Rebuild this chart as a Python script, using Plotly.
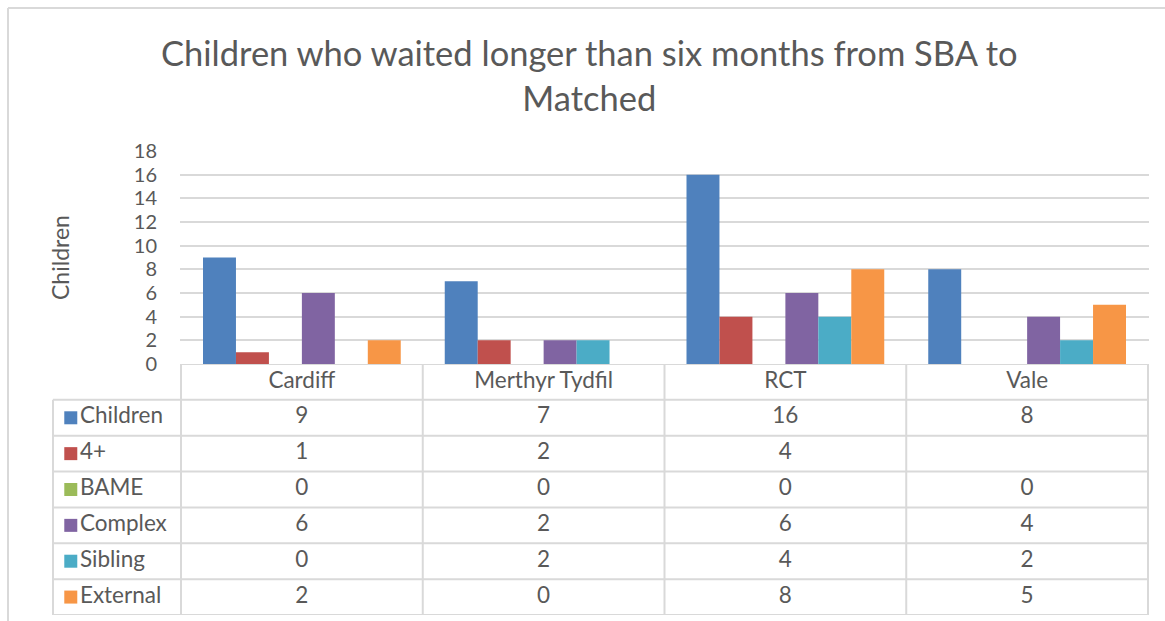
import plotly.graph_objects as go

# ---- data ----
categories = ["Cardiff", "Merthyr Tydfil", "RCT", "Vale"]
series_names = ["Children", "4+", "BAME", "Complex", "Sibling", "External"]
children = [9, 7, 16, 8]
four_plus = [1, 2, 4, None]
bame = [0, 0, 0, 0]
complex_ = [6, 2, 6, 4]
sibling = [0, 2, 4, 2]
external = [2, 0, 8, 5]
y_ticks = [0, 2, 4, 6, 8, 10, 12, 14, 16, 18]
title_text = "Children who waited longer than six months from SBA to<br>Matched"
y_title = "Children"

series_values = [children, four_plus, bame, complex_, sibling, external]
colors = ["#4F81BD", "#C0504D", "#9BBB59", "#8064A2", "#4BACC6", "#F79646"]

W, H = 1165, 621
FONT = "Lato, Carlito, Calibri, sans-serif"
TXT = "#595959"
LINE = "#D9D9D9"
FS = 22.5
TICK_FS = 20

def px_x(p):
    return p / W

def px_y(p):
    return (H - p) / H

plot_left, plot_right = 180, 1149
bar_top, bar_bottom = 151, 364
table_bottom = 615
label_left = 53

fig = go.Figure()

# bars
for name, vals, col in zip(series_names, series_values, colors):
    fig.add_trace(go.Bar(
        x=categories, y=vals, name=name, marker_color=col,
        marker_line_width=0, xaxis="x", yaxis="y", showlegend=False,
        hoverinfo="x+y+name",
    ))

# table header (category names)
fig.add_trace(go.Scatter(
    x=categories, y=[0.5] * len(categories), text=categories, mode="text",
    textfont=dict(family=FONT, size=FS, color=TXT), xaxis="x2", yaxis="y2",
    showlegend=False, hoverinfo="skip", cliponaxis=False,
))

# table values
for i, (name, vals) in enumerate(zip(series_names, series_values)):
    fig.add_trace(go.Scatter(
        x=categories, y=[i + 1.5] * len(categories),
        text=["" if v is None else str(v) for v in vals], mode="text",
        textfont=dict(family=FONT, size=FS, color=TXT), xaxis="x2", yaxis="y2",
        showlegend=False, hoverinfo="skip", cliponaxis=False,
    ))

# row labels with colour keys
for i, (name, col) in enumerate(zip(series_names, colors)):
    fig.add_trace(go.Scatter(
        x=[0.14], y=[i + 1.5], text=[name], mode="markers+text",
        textposition="middle right",
        marker=dict(symbol="square", size=13, color=col, line_width=0),
        textfont=dict(family=FONT, size=FS, color=TXT), xaxis="x3", yaxis="y2",
        showlegend=False, hoverinfo="skip", cliponaxis=False,
    ))

n_rows = len(series_names) + 1
shapes = []
# horizontal table lines
for r in range(1, n_rows + 1):
    shapes.append(dict(type="line", xref="paper", yref="y2",
                       x0=px_x(label_left), x1=px_x(plot_right), y0=r, y1=r,
                       line=dict(color=LINE, width=2)))
shapes.append(dict(type="line", xref="paper", yref="y2",
                   x0=px_x(plot_left), x1=px_x(plot_right), y0=0, y1=0,
                   line=dict(color=LINE, width=2)))
# vertical table lines at category boundaries
for k in range(len(categories) + 1):
    shapes.append(dict(type="line", xref="x2", yref="y2",
                       x0=k - 0.5, x1=k - 0.5, y0=0, y1=n_rows,
                       line=dict(color=LINE, width=2)))
shapes.append(dict(type="line", xref="paper", yref="y2",
                   x0=px_x(label_left), x1=px_x(label_left), y0=1, y1=n_rows,
                   line=dict(color=LINE, width=2)))
# chart border
shapes.append(dict(type="line", xref="paper", yref="paper",
                   x0=px_x(8), x1=1, y0=px_y(8), y1=px_y(8),
                   line=dict(color=LINE, width=2)))
shapes.append(dict(type="line", xref="paper", yref="paper",
                   x0=px_x(8), x1=px_x(8), y0=px_y(8), y1=0,
                   line=dict(color=LINE, width=2)))

annotations = [
    dict(text=title_text, xref="paper", yref="paper", x=px_x(589), y=px_y(75),
         xanchor="center", yanchor="middle", showarrow=False,
         font=dict(family=FONT, size=34.5, color=TXT)),
    dict(text=y_title, xref="paper", yref="paper", x=px_x(60), y=px_y(258),
         xanchor="center", yanchor="middle", showarrow=False, textangle=-90,
         font=dict(family=FONT, size=23, color=TXT)),
]

fig.update_layout(
    width=W, height=H,
    margin=dict(l=0, r=0, t=0, b=0, autoexpand=False),
    paper_bgcolor="white", plot_bgcolor="white",
    barmode="group", bargap=0.182, bargroupgap=0,
    font=dict(family=FONT, color=TXT),
    xaxis=dict(domain=[px_x(plot_left), px_x(plot_right)], anchor="y",
               showticklabels=False, ticks="", showgrid=False, zeroline=False,
               showline=False, categoryorder="array", categoryarray=categories,
               automargin=False),
    yaxis=dict(domain=[px_y(bar_bottom), px_y(bar_top)], anchor="x",
               range=[0, 18], tickvals=y_ticks, showgrid=True, gridcolor=LINE,
               gridwidth=2, zeroline=False, showline=False, ticks="",
               tickfont=dict(family=FONT, size=TICK_FS, color=TXT),
               ticklabelstandoff=22, automargin=False),
    xaxis2=dict(domain=[px_x(plot_left), px_x(plot_right)], anchor="y2",
                matches="x", showticklabels=False, ticks="", showgrid=False,
                zeroline=False, showline=False, categoryorder="array",
                categoryarray=categories, automargin=False),
    yaxis2=dict(domain=[px_y(table_bottom), px_y(bar_bottom)], anchor="x2",
                range=[n_rows, 0], visible=False, automargin=False),
    xaxis3=dict(domain=[px_x(label_left), px_x(plot_left)], anchor="y2",
                range=[0, 1], visible=False, automargin=False),
    shapes=shapes,
    annotations=annotations,
)

post = (
    "var gd=document.getElementById('{plot_id}');"
    "gd.style.position='absolute';gd.style.top='0px';gd.style.left='0px';"
    "document.body.style.margin='0';document.body.style.overflow='hidden';"
    "document.documentElement.style.overflow='hidden';"
)

fig.write_html("out.html", post_script=post, config={"displayModeBar": False})
